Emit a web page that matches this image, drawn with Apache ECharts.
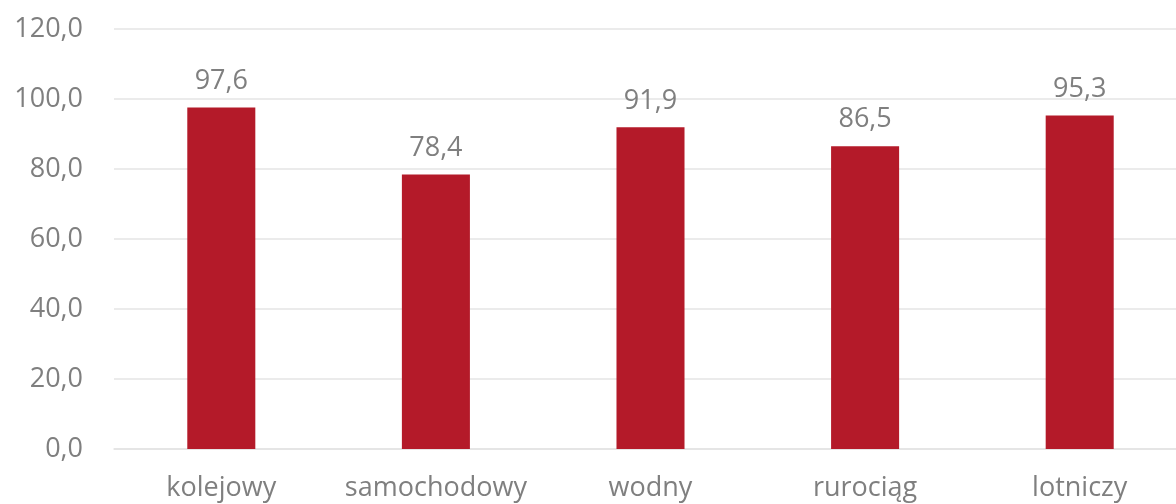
<!DOCTYPE html>
<html>
<head>
<meta charset="utf-8">
<script src="https://cdn.jsdelivr.net/npm/echarts@6/dist/echarts.min.js"></script>
<style>
  html, body { margin: 0; padding: 0; background: #ffffff; overflow: hidden; }
  #chart { width: 1187px; height: 504px; }
</style>
</head>
<body>
<div id="chart"></div>
<script>
// Transport modes and their values
const categories = ['kolejowy', 'samochodowy', 'wodny', 'rurociąg', 'lotniczy'];
const values = [97.6, 78.4, 91.9, 86.5, 95.3];

const textColor = '#7f7f7f';
const gridColor = '#e4e4e4';
const fontFamily = '"Open Sans", "Noto Sans", sans-serif';

// Polish decimal comma
const fmt = v => Number(v).toFixed(1).replace('.', ',');

const chart = echarts.init(document.getElementById('chart'));
chart.setOption({
  animation: false,
  backgroundColor: '#ffffff',
  grid: { left: 114, right: 0, top: 29, bottom: 55, containLabel: false },
  xAxis: {
    type: 'category',
    data: categories,
    axisLine: { show: true, lineStyle: { color: gridColor, width: 1.5 } },
    axisTick: { show: false },
    axisLabel: { color: textColor, fontSize: 27, fontFamily: fontFamily, margin: 26, interval: 0 }
  },
  yAxis: {
    type: 'value',
    min: 0,
    max: 120,
    interval: 20,
    axisLine: { show: false },
    axisTick: { show: false },
    splitLine: { lineStyle: { color: gridColor, width: 1.5 } },
    axisLabel: { color: textColor, fontSize: 27, fontFamily: fontFamily, margin: 31, formatter: fmt }
  },
  series: [{
    type: 'bar',
    data: values,
    barWidth: '31.7%',
    itemStyle: { color: '#b41a29' },
    label: {
      show: true,
      position: 'top',
      distance: 13,
      color: textColor,
      fontSize: 27,
      fontFamily: fontFamily,
      formatter: p => fmt(p.value)
    }
  }]
});
</script>
</body>
</html>
